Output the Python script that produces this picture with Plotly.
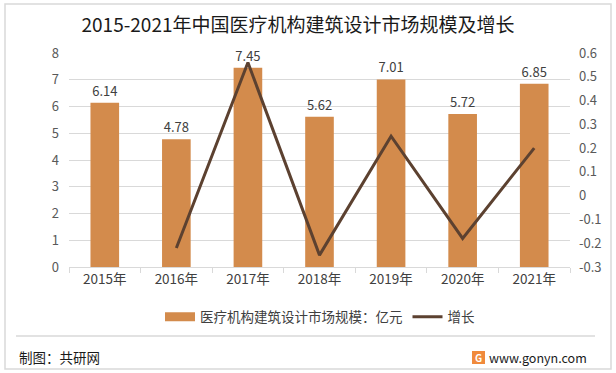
import plotly.graph_objects as go

years = ["2015年", "2016年", "2017年", "2018年", "2019年", "2020年", "2021年"]
market_size = [6.14, 4.78, 7.45, 5.62, 7.01, 5.72, 6.85]
growth = [None, -0.22, 0.56, -0.25, 0.25, -0.18, 0.20]
left_ticks = [0, 1, 2, 3, 4, 5, 6, 7, 8]
right_ticks = [-0.3, -0.2, -0.1, 0, 0.1, 0.2, 0.3, 0.4, 0.5, 0.6]
right_ticktext = ["-0.3", "-0.2", "-0.1", "0", "0.1", "0.2", "0.3", "0.4", "0.5", "0.6"]
bar_name = "医疗机构建筑设计市场规模：亿元"
line_name = "增长"

W, H = 616, 373
L, R, T, B = 69, 570, 53, 267
FONT = "Noto Sans CJK SC, Noto Sans, sans-serif"
BAR_COLOR = "#D38B4C"
LINE_COLOR = "#5C4130"

def px(x):
    return (x - L) / (R - L)

def py(y):
    return (B - y) / (B - T)

fig = go.Figure()
fig.add_trace(go.Bar(
    x=years, y=market_size, name=bar_name, showlegend=False,
    marker=dict(color=BAR_COLOR, line=dict(width=0)),
    text=[f"{v:.2f}" for v in market_size], textposition="outside",
    textfont=dict(size=13, color="#404040", family=FONT),
    cliponaxis=False,
))
# legend proxy for bar series (wide swatch as in reference)
fig.add_trace(go.Scatter(
    x=[None], y=[None], name=bar_name, mode="lines",
    line=dict(color=BAR_COLOR, width=9),
))
fig.add_trace(go.Scatter(
    x=years, y=growth, name=line_name, yaxis="y2", mode="lines",
    line=dict(color=LINE_COLOR, width=3),
))

fig.update_layout(
    width=W, height=H,
    margin=dict(l=L, r=W - R, t=T, b=H - B),
    paper_bgcolor="white", plot_bgcolor="white",
    font=dict(family=FONT, size=13, color="#595959"),
    bargap=0.6,
    showlegend=True,
    legend=dict(orientation="h", x=px(320), y=py(317), xanchor="center", yanchor="middle",
                font=dict(size=13.5, color="#404040"), itemwidth=30, tracegroupgap=0,
                bgcolor="rgba(0,0,0,0)"),
    xaxis=dict(type="category", showgrid=False, showline=True, linecolor="#D9D9D9",
               ticks="outside", tickson="boundaries", ticklen=5, tickcolor="#D9D9D9",
               tickfont=dict(size=13.5, color="#404040"), fixedrange=True),
    yaxis=dict(range=[0, 8], tickvals=left_ticks, showgrid=True, gridcolor="#D9D9D9",
               zeroline=False, showline=False, ticks="", ticklabelstandoff=9,
               tickfont=dict(size=13, color="#595959")),
    yaxis2=dict(range=[-0.3, 0.6], overlaying="y", side="right", tickvals=right_ticks,
                ticktext=right_ticktext, showgrid=False, zeroline=False, showline=False,
                ticks="", ticklabelstandoff=8, tickfont=dict(size=13, color="#595959")),
    title=dict(text="2015-2021年中国医疗机构建筑设计市场规模及增长", x=298 / W, xanchor="center",
               y=1 - 25 / H, yanchor="middle", font=dict(size=19, color="#1a1a1a")),
    shapes=[
        dict(type="rect", xref="paper", yref="paper", x0=px(5), x1=px(611), y0=py(369), y1=py(4),
             line=dict(color="#D9D9D9", width=1.5), fillcolor="rgba(0,0,0,0)", layer="below"),
        dict(type="line", xref="paper", yref="paper", x0=px(16), x1=px(595), y0=py(336), y1=py(336),
             line=dict(color="#D9D9D9", width=1.5)),
        dict(type="rect", xref="paper", yref="paper", x0=px(472), x1=px(485), y0=py(364), y1=py(351),
             line=dict(width=0), fillcolor="#F08A3C"),
    ],
    annotations=[
        dict(text="制图：共研网", xref="paper", yref="paper", x=px(17), y=py(357), xanchor="left",
             yanchor="middle", showarrow=False, font=dict(size=13.5, color="#1a1a1a")),
        dict(text="www.gonyn.com", xref="paper", yref="paper", x=px(589), y=py(357), xanchor="right",
             yanchor="middle", showarrow=False, font=dict(size=12.5, color="#1a1a1a")),
        dict(text="<b>G</b>", xref="paper", yref="paper", x=px(478.5), y=py(357.5), xanchor="center",
             yanchor="middle", showarrow=False, font=dict(size=10, color="white")),
    ],
)

fig.write_html("out.html", config={"displayModeBar": False},
               post_script="document.body.style.margin='0';document.body.style.overflow='hidden';")
